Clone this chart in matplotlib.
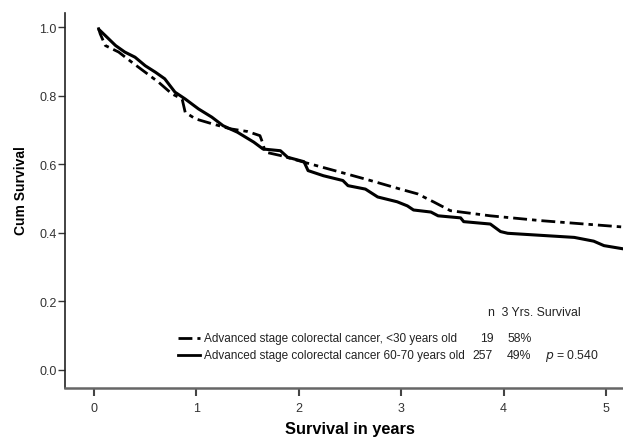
import matplotlib
matplotlib.use("Agg")
import matplotlib.pyplot as plt
from matplotlib.lines import Line2D

plt.rcParams['font.family'] = ['Liberation Sans', 'DejaVu Sans']

# 60-70 years old group (solid)
t_old = [0.04, 0.11, 0.21, 0.30, 0.40, 0.50, 0.60, 0.69, 0.79, 0.89, 1.02, 1.15, 1.26,
         1.40, 1.56, 1.65, 1.82, 1.89, 2.05, 2.09, 2.24, 2.43, 2.48, 2.65, 2.77, 2.96,
         3.06, 3.12, 3.29, 3.36, 3.58, 3.61, 3.87, 3.97, 4.04, 4.69, 4.88, 4.98, 5.18]
s_old = [0.996, 0.976, 0.947, 0.928, 0.913, 0.888, 0.869, 0.85, 0.811, 0.791, 0.762,
         0.738, 0.713, 0.694, 0.665, 0.645, 0.64, 0.621, 0.608, 0.582, 0.567, 0.553,
         0.538, 0.528, 0.505, 0.491, 0.479, 0.467, 0.461, 0.450, 0.444, 0.433, 0.426,
         0.404, 0.399, 0.387, 0.376, 0.363, 0.353]

# <30 years old group (dash-dot)
t_young = [0.04, 0.06, 0.11, 0.24, 0.37, 0.50, 0.63, 0.76, 0.86, 0.89, 0.99, 1.16,
           1.33, 1.50, 1.62, 1.65, 1.67, 1.82, 2.08, 2.41, 2.70, 2.99, 3.16, 3.32,
           3.48, 3.87, 4.36, 5.18]
s_young = [1.0, 0.981, 0.947, 0.928, 0.898, 0.869, 0.84, 0.806, 0.791, 0.752, 0.733,
           0.718, 0.704, 0.696, 0.684, 0.66, 0.636, 0.626, 0.604, 0.577, 0.553, 0.528,
           0.514, 0.49, 0.465, 0.45, 0.436, 0.417]

labels = ["Advanced stage colorectal cancer, <30 years old",
          "Advanced stage colorectal cancer 60-70 years old"]
n_vals = ["19", "257"]
surv3 = ["58%", "49%"]

xticks = [0, 1, 2, 3, 4, 5]
yticks = [0.0, 0.2, 0.4, 0.6, 0.8, 1.0]

W, H = 623, 439
fig = plt.figure(figsize=(W / 100, H / 100), dpi=100)
ax = fig.add_axes([65 / W, 1 - 389 / H, 1 - 65 / W, (389 - 14) / H])

dash = (0, (5, 1.8, 1.6, 1.8))
ax.plot(t_young, s_young, color='black', lw=2.0, linestyle=dash)
ax.plot(t_old, s_old, color='black', lw=2.2, solid_capstyle='butt')

ax.set_xlim(-0.284, 5.166)
ax.set_ylim(-0.0526, 1.042)
ax.spines['top'].set_visible(False)
ax.spines['right'].set_visible(False)
ax.spines['left'].set_color('#222222')
ax.spines['left'].set_linewidth(1.2)
ax.spines['bottom'].set_color('#666666')
ax.spines['bottom'].set_linewidth(1.8)

ax.set_xticks(xticks)
ax.set_xticklabels([str(v) for v in xticks])
ax.set_yticks(yticks)
ax.set_yticklabels(["%.1f" % v for v in yticks])
ax.tick_params(axis='y', direction='out', length=5, width=1, color='#333333',
               labelsize=9, labelcolor='#333333', pad=1)
ax.tick_params(axis='x', direction='out', length=6, width=1.5, color='#444444',
               labelsize=9, labelcolor='#333333', pad=4)

fig.text(21 / W, 1 - 191 / H, "Cum Survival", rotation=90, fontsize=10,
         fontweight='bold', ha='center', va='center')
fig.text(350 / W, 1 - 430 / H, "Survival in years", fontsize=11.8,
         fontweight='bold', ha='center', va='center')

# legend block
fs = 8.8
fig.text(488 / W, 1 - 313 / H, "n  3 Yrs. Survival", fontsize=fs, color='#222222',
         va='center')
rows_y = [339, 356]
n_x = [480, 472]
styles = [dash, '-']
for i in range(2):
    y = 1 - rows_y[i] / H
    fig.add_artist(Line2D([178 / W, 200 / W], [y, y], transform=fig.transFigure,
                          color='black', lw=2.0, linestyle=styles[i]))
    fig.text(204 / W, y, labels[i], fontsize=8.5, color='#222222', va='center')
    fig.text(n_x[i] / W, y, n_vals[i], fontsize=fs, color='#222222', va='center')
    fig.text(507 / W, y, surv3[i], fontsize=fs, color='#222222', va='center')
fig.text(545 / W, 1 - 356 / H, r"$p$ = 0.540", fontsize=fs, color='#222222',
         va='center')

fig.savefig("out.png", dpi=100)
